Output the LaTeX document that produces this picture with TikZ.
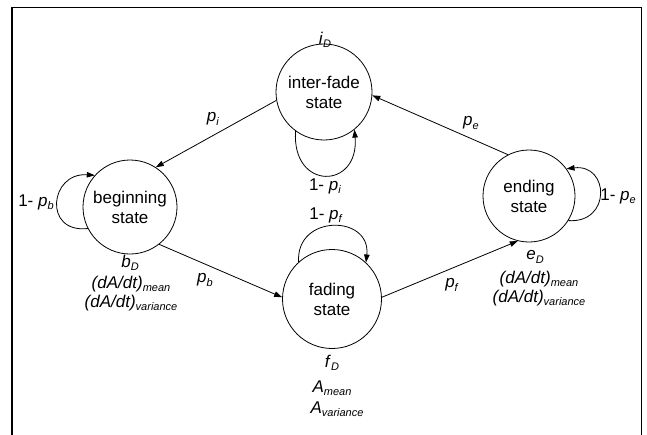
\documentclass[tikz,border=0pt]{standalone}
\usepackage{fontspec}
\setmainfont{Liberation Sans}
\usetikzlibrary{arrows.meta}
\newcommand{\lbl}[2]{\textit{#1}\raisebox{-3.5pt}{\fontsize{11}{11}\selectfont\textit{#2}}}
\begin{document}
\begin{tikzpicture}[x=1pt,y=-1pt,
  st/.style={draw, circle, line width=0.8pt, inner sep=0pt, align=center, font=\fontsize{17}{20}\selectfont},
  lab/.style={inner sep=0pt, align=center, font=\fontsize{17}{19}\selectfont},
  arr/.style={line width=0.8pt, -{Triangle[length=8pt,width=5.5pt]}},
]
\useasboundingbox (0,0) rectangle (647,434);
\draw[line width=1.4pt] (12,440) -- (12,7.5) -- (641.5,7.5) -- (641.5,440);

\node[st, minimum size=96pt] (I) at (324,92) {inter-fade\\state};
\node[st, minimum size=94pt] (B) at (130,207) {beginning\\state};
\node[st, minimum size=99pt] (F) at (332,299) {fading\\state};
\node[st, minimum size=92pt] (E) at (529,196) {ending\\state};

% transitions
\draw[arr] (I.190) -- (B.57);
\draw[arr] (E.117) -- (I.-4);
\draw[arr] (B.-52) -- (F.178);
\draw[arr] (F.2) -- (E.256);

% self loops
\draw[arr] (I.234) .. controls +(-4,60) and +(5,60) .. (I.309);
\draw[arr] (B.207) .. controls +(-45,5) and +(-45,-3) .. (B.138);
\draw[arr] (F.132) .. controls +(-3,-48) and +(5,-48) .. (F.47);
\draw[arr] (E.328) .. controls +(43,3) and +(43,-5) .. (E.36);

% transition labels
\node[lab] (lpi) at (213,119) {\lbl{p}{i}};
\node[lab] (lpe) at (471,123) {\lbl{p}{e}};
\node[lab] (lpb) at (205,280) {\lbl{p}{b}};
\node[lab] (lpf) at (452,285) {\lbl{p}{f}};
\node[lab] (lqi) at (325,186) {1- \lbl{p}{i}};
\node[lab] (lqf) at (326,215) {1- \lbl{p}{f}};
\node[lab] (lqb) at (36,202) {1- \lbl{p}{b}};
\node[lab] (lqe) at (618,196) {1- \lbl{p}{e}};

% state parameters
\node[lab] (iD) at (325,40) {\lbl{i}{D}};
\node[lab] (bD) at (130,263) {\lbl{b}{D}};
\node[lab] (bm) at (131,284) {\lbl{(dA/dt)}{mean}};
\node[lab] (bv) at (131,303) {\lbl{(dA/dt)}{variance}};
\node[lab] (fD) at (332,363) {\lbl{f}{D}};
\node[lab] (fm) at (332,388) {\lbl{A}{mean}};
\node[lab] (fv) at (337,409) {\lbl{A}{variance}};
\node[lab] (eD) at (535,257) {\lbl{e}{D}};
\node[lab] (em) at (539,279) {\lbl{(dA/dt)}{mean}};
\node[lab] (ev) at (539,298) {\lbl{(dA/dt)}{variance}};
\end{tikzpicture}
\end{document}
